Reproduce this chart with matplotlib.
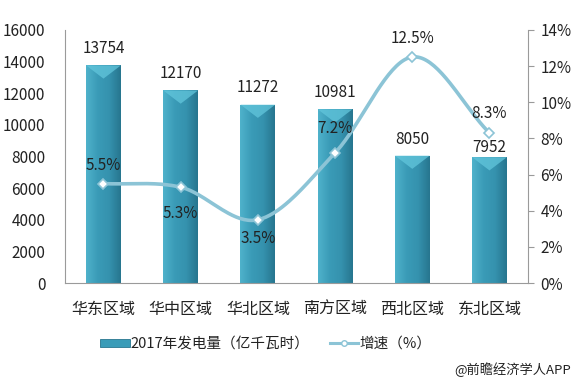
import matplotlib
matplotlib.use("Agg")
import matplotlib.pyplot as plt
import numpy as np
from matplotlib.colors import LinearSegmentedColormap
from matplotlib.patches import Rectangle, Polygon
from matplotlib.lines import Line2D

plt.rcParams['font.family'] = ['Noto Sans CJK SC', 'DejaVu Sans']

regions = ['华东区域', '华中区域', '华北区域', '南方区域', '西北区域', '东北区域']
power = [13754, 12170, 11272, 10981, 8050, 7952]
growth = [5.5, 5.3, 3.5, 7.2, 12.5, 8.3]
growth_labels = ['5.5%', '5.3%', '3.5%', '7.2%', '12.5%', '8.3%']
left_ticks = [0, 2000, 4000, 6000, 8000, 10000, 12000, 14000, 16000]
right_ticks = [0, 2, 4, 6, 8, 10, 12, 14]


def catmull_rom(x, y, n=40):
    # smooth curve through the points, like excel's smoothed line
    x = np.asarray(x, float)
    y = np.asarray(y, float)
    px = np.concatenate([[2 * x[0] - x[1]], x, [2 * x[-1] - x[-2]]])
    py = np.concatenate([[2 * y[0] - y[1]], y, [2 * y[-1] - y[-2]]])
    xs, ys = [], []
    t = np.linspace(0, 1, n)
    for i in range(1, len(px) - 2):
        for p, out in ((px, xs), (py, ys)):
            p0, p1, p2, p3 = p[i - 1], p[i], p[i + 1], p[i + 2]
            out.append(0.5 * (2 * p1 + (-p0 + p2) * t
                              + (2 * p0 - 5 * p1 + 4 * p2 - p3) * t ** 2
                              + (-p0 + 3 * p1 - 3 * p2 + p3) * t ** 3))
    return np.concatenate(xs), np.concatenate(ys)


fig = plt.figure(figsize=(5.74, 3.83), dpi=100)
ax_rect = [0.113, 0.261, 0.807, 0.661]
ax = fig.add_axes(ax_rect)
x = np.arange(len(regions))
ax.set_xlim(-0.5, len(regions) - 0.5)
ax.set_ylim(0, 16000)

bar_w = 0.45
bar_cmap = LinearSegmentedColormap.from_list('bar', ['#4fb2cb', '#3a9bb7', '#3592ae', '#27768f'])
bars = ax.bar(x, power, width=bar_w, color='#3a9cb8', zorder=2)
grad = np.linspace(0, 1, 64).reshape(1, -1)
# depth of the lighter chevron at the top of each bar, in data units
px_per_x = ax_rect[2] * 574 / 6
px_per_y = ax_rect[3] * 383 / 16000
chev = 0.38 * bar_w * px_per_x / px_per_y
# gap (pixels) between bar top and its value label
label_gap = [17, 17, 17, 17, 16, 10]
for b, gap in zip(bars, label_gap):
    bx, bw, bh = b.get_x(), b.get_width(), b.get_height()
    im = ax.imshow(grad, cmap=bar_cmap, aspect='auto', zorder=2.1,
                   extent=[bx, bx + bw, 0, bh])
    im.set_clip_path(b)
    ax.add_patch(Polygon([[bx, bh], [bx + bw, bh], [bx + bw / 2, bh - chev]],
                         closed=True, facecolor='#62c6dc', edgecolor='none', alpha=0.75, zorder=2.2))
    ax.text(bx + bw / 2, bh + gap / px_per_y, f'{bh:.0f}',
            ha='center', va='center', fontsize=11, color='#222222', zorder=5)

ax.set_yticks(left_ticks)
ax.set_yticklabels([str(v) for v in left_ticks], fontsize=11, color='#222222')
ax.set_xticks(x)
ax.set_xticklabels(regions, fontsize=11.5, color='#222222')
ax.tick_params(axis='y', length=0, pad=14)
ax.tick_params(axis='x', length=0, pad=13)
for s in ['top', 'right']:
    ax.spines[s].set_visible(False)
for s in ['left', 'bottom']:
    ax.spines[s].set_color('#9a9a9a')

ax2 = ax.twinx()
ax2.set_ylim(0, 14)
ax2.set_yticks(right_ticks)
ax2.set_yticklabels([f'{v}%' for v in right_ticks], fontsize=11, color='#222222')
ax2.tick_params(axis='y', length=4, color='#9a9a9a', pad=5)
for s in ['top', 'left', 'bottom']:
    ax2.spines[s].set_visible(False)
ax2.spines['right'].set_color('#9a9a9a')

sx, sy = catmull_rom(x, growth)
ax2.plot(sx, sy, color='#8cc4d6', lw=2.6, zorder=3, solid_capstyle='round')
ax2.plot(x, growth, ls='none', marker='D', ms=5, mfc='white', mec='#8cc4d6', mew=1.2, zorder=4)

offsets = [1.0, -1.45, -1.05, 1.35, 1.05, 1.05]
for xi, g, lab, off in zip(x, growth, growth_labels, offsets):
    ax2.text(xi, g + off, lab, ha='center', va='center', fontsize=11, color='#222222', zorder=6)

# legend drawn by hand beneath the axes
fig.patches.append(Rectangle((0.174, 0.094), 0.052, 0.02, transform=fig.transFigure,
                             facecolor='#3a9cb8', edgecolor='#27768f', lw=0.6))
fig.text(0.227, 0.104, '2017年发电量（亿千瓦时）', fontsize=10.5, va='center', color='#222222')
fig.lines.append(Line2D([0.575, 0.624], [0.104, 0.104], transform=fig.transFigure,
                        color='#8cc4d6', lw=2.2))
fig.lines.append(Line2D([0.600], [0.104], transform=fig.transFigure, marker='o', ms=4,
                        mfc='white', mec='#8cc4d6', ls='none'))
fig.text(0.626, 0.104, '增速（%）', fontsize=10.5, va='center', color='#222222')

fig.text(0.995, 0.034, '@前瞻经济学人APP', fontsize=9.5, ha='right', va='center', color='#222222')

fig.savefig('out.png', dpi=100)
